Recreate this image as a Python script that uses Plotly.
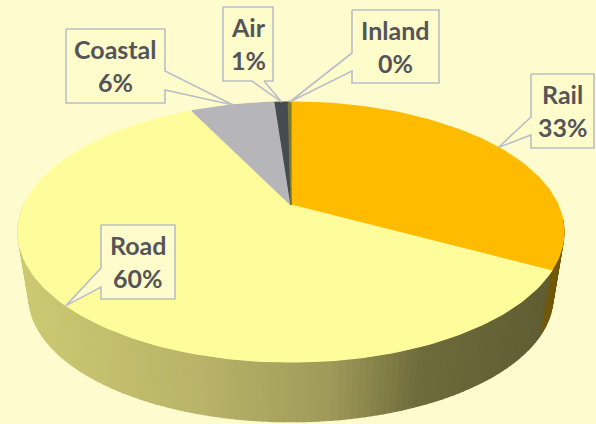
import math
import plotly.graph_objects as go

categories = ["Rail", "Road", "Coastal", "Air", "Inland"]
values = [32.9, 59.85, 6.1, 0.95, 0.2]
top_colors = ["#FFBB00", "#FFFC9C", "#B6B6BA", "#454B50", "#7A7A30"]
label_boxes = {
    "Rail": (531, 594, 74, 148),
    "Road": (101, 175, 225, 299),
    "Coastal": (66, 165, 29, 103),
    "Air": (223, 273, 7, 81),
    "Inland": (352, 439, 10, 83),
}
callout_bases = {
    "Rail": ("left", 117, 135),
    "Road": ("left", 268, 287),
    "Coastal": ("right", 71, 90),
    "Air": ("bottom", 252, 264),
    "Inland": ("left", 53, 71),
}

CX, CY, R, B, K = 291.0, 205.0, 267.0, 124.4, 0.2077
S, DY = 0.96, 66.0


def top_pt(t):
    X, Y = math.sin(t), math.cos(t)
    d = 1 + K * Y
    return CX + R * X / d, CY - B * Y / d


def low_pt(t):
    X, Y = math.sin(t), math.cos(t)
    d = 1 + K * Y
    return CX + S * R * X / d, CY + DY - S * B * Y / d


def lerp(a, b, f):
    return tuple(a[i] + (b[i] - a[i]) * f for i in range(3))


def side_color(x, rail):
    if rail:
        return "rgb(112,88,10)"
    stops = [(20, (205, 203, 115)), (200, (185, 180, 105)), (330, (160, 155, 90)), (420, (110, 108, 60)), (560, (95, 92, 50))]
    for (x0, c0), (x1, c1) in zip(stops, stops[1:]):
        if x <= x1:
            f = max(0, (x - x0) / (x1 - x0))
            c = lerp(c0, c1, f)
            return "rgb(%d,%d,%d)" % c
    return "rgb(95,92,50)"


fig = go.Figure()


def poly(xs, ys, fill, line=None, width=0):
    fig.add_trace(go.Scatter(
        x=xs, y=ys, mode="lines", fill="toself", fillcolor=fill,
        line=dict(color=line or fill, width=width if line else 1.2),
        hoverinfo="skip", showlegend=False))


total = sum(values)
fractions = [v / total for v in values]
starts = []
acc = 0.0
for f in fractions:
    starts.append(acc)
    acc += f

# side wall, from the left round to the right
N = 150
road_lo = 2 * math.pi * starts[1]
side_hi = math.radians(272)
for lo, hi, rail in [(road_lo, side_hi, False), (math.radians(96), road_lo, True)]:
    n = max(6, int(N * (hi - lo) / math.pi))
    order = range(n - 1, -1, -1) if not rail else range(n)
    for i in order:
        a = lo + (hi - lo) * i / n
        b = lo + (hi - lo) * (i + 1) / n
        pts = [top_pt(a), top_pt(b), low_pt(b), low_pt(a)]
        xs = [p[0] for p in pts] + [pts[0][0]]
        ys = [p[1] for p in pts] + [pts[0][1]]
        poly(xs, ys, side_color(sum(p[0] for p in pts) / 4, rail))

# top faces
for cat, f, s, col in zip(categories, fractions, starts, top_colors):
    a0, a1 = 2 * math.pi * s, 2 * math.pi * (s + f)
    m = max(3, int(f * 240))
    pts = [(CX, CY)] + [top_pt(a0 + (a1 - a0) * j / m) for j in range(m + 1)] + [(CX, CY)]
    poly([p[0] for p in pts], [p[1] for p in pts], col)

# call-out labels with the pointer reaching the slice's mid-angle on the rim
label_font = dict(family="Lato", size=25, color="#555559", weight="bold")
for cat, f, s in zip(categories, fractions, starts):
    x0, x1, y0, y1 = label_boxes[cat]
    tip = top_pt(2 * math.pi * (s + f / 2))
    side, b0, b1 = callout_bases[cat]
    if side == "left":
        pts = [(x0, y0), (x1, y0), (x1, y1), (x0, y1), (x0, b1), tip, (x0, b0)]
    elif side == "right":
        pts = [(x0, y0), (x1, y0), (x1, b0), tip, (x1, b1), (x1, y1), (x0, y1)]
    else:
        pts = [(x0, y0), (x1, y0), (x1, y1), (b1, y1), tip, (b0, y1), (x0, y1)]
    pts.append(pts[0])
    poly([p[0] for p in pts], [p[1] for p in pts], "#FEFCCB", "#BCBDC6", 1.6)
    xm, ym = (x0 + x1) / 2, (y0 + y1) / 2
    for txt, off in ((cat, -17), ("%d%%" % round(f * 100), 16)):
        fig.add_annotation(x=xm, y=ym + off, xref="x", yref="y", showarrow=False,
                           text=txt, font=label_font, align="center")

fig.update_layout(
    width=596, height=424, margin=dict(l=0, r=0, t=0, b=0),
    paper_bgcolor="#FEFCCE", plot_bgcolor="#FEFCCE", showlegend=False,
    xaxis=dict(range=[0, 596], visible=False, fixedrange=True),
    yaxis=dict(range=[424, 0], visible=False, fixedrange=True),
)
fig.write_html("out.html", config=dict(displayModeBar=False),
               post_script="document.body.style.margin='0';document.body.style.overflow='hidden';")
